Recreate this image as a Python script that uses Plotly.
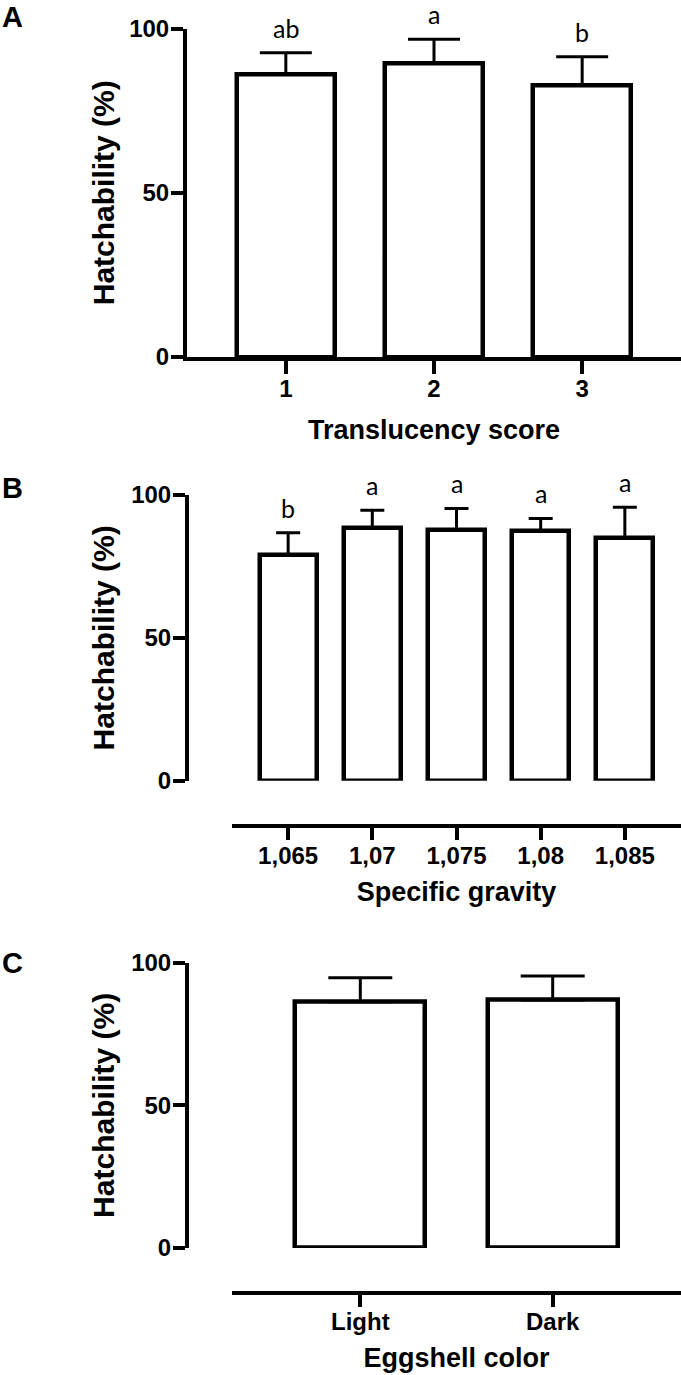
import plotly.graph_objects as go

W, H = 681, 1375

# ---- data ----
cat_a = ["1", "2", "3"]
mean_a = [86.1, 89.4, 82.8]
sem_a = [6.5, 7.3, 8.6]
letters_a = ["ab", "a", "b"]

cat_b = ["1,065", "1,07", "1,075", "1,08", "1,085"]
mean_b = [79.0, 88.3, 87.7, 87.4, 84.8]
sem_b = [7.8, 6.4, 7.6, 4.4, 10.9]
letters_b = ["b", "a", "a", "a", "a"]

cat_c = ["Light", "Dark"]
mean_c = [86.3, 86.9]
sem_c = [8.4, 8.4]

y_ticks = [0, 50, 100]

# ---- helpers ----
def px_x(p):
    return p / W

def px_y(p):
    return 1 - p / H

BOLD = dict(family="Liberation Sans, Arial, sans-serif", color="black", weight="bold")
TICKFONT = dict(BOLD, size=24)
TITLEFONT = dict(BOLD, size=27)
YTITLEFONT = dict(BOLD, size=30)
LETTERFONT = dict(family="Lato, Open Sans, sans-serif", size=25, color="black")

fig = go.Figure()

panels = [
    # cats, means, sems, letters, xaxis id, yaxis id, bar width, cap half-width
    (cat_a, mean_a, sem_a, letters_a, "x", "y", 0.66, 26),
    (cat_b, mean_b, sem_b, letters_b, "x2", "y2", 0.68, 12),
    (cat_c, mean_c, sem_c, None, "x3", "y3", 0.675, 32),
]

for cats, means, sems, letters, xa, ya, bw, cap in panels:
    fig.add_trace(go.Bar(
        x=cats, y=means, xaxis=xa, yaxis=ya, width=bw,
        marker=dict(color="white", line=dict(color="black", width=4.5)),
        error_y=dict(type="data", array=sems, arrayminus=[0] * len(sems),
                     symmetric=False, color="black", thickness=3, width=cap),
        showlegend=False, hoverinfo="x+y",
    ))
    if letters:
        for i, (m, s, l) in enumerate(zip(means, sems, letters)):
            fig.add_annotation(x=i, y=m + s, xref=xa, yref=ya, text=l,
                               showarrow=False, yanchor="bottom", yshift=8,
                               font=LETTERFONT)

axis_common = dict(showgrid=False, zeroline=False, showline=True,
                   linecolor="black", linewidth=4, ticks="outside",
                   tickcolor="black", tickwidth=4, tickfont=TICKFONT,
                   automargin=False, fixedrange=True)

def yax(top, bottom):
    return dict(axis_common, domain=[px_y(bottom), px_y(top)], range=[0, 100],
                tickvals=y_ticks, ticklen=12, ticklabelstandoff=-3,
                title=dict(text="Hatchability (%)", font=YTITLEFONT, standoff=7))

fig.update_layout(
    width=W, height=H, margin=dict(l=0, r=0, t=0, b=0), autosize=False,
    plot_bgcolor="white", paper_bgcolor="white", bargap=0,
    # Panel A
    xaxis=dict(axis_common, type="category", domain=[px_x(187), 1],
               range=[-0.667, 2.667], anchor="y", ticklen=13, ticklabelstandoff=-6,
               title=dict(text="Translucency score", font=TITLEFONT, standoff=20)),
    yaxis=dict(yax(28.5, 357), anchor="x"),
    # Panel B
    xaxis2=dict(axis_common, type="category", domain=[px_x(232), 1],
                range=[-0.667, 4.667], anchor="free", position=px_y(825.7),
                ticklen=12, ticklabelstandoff=-5,
                title=dict(text="Specific gravity", font=TITLEFONT, standoff=14)),
    yaxis2=dict(yax(495, 780.7), anchor="free", position=px_x(187)),
    # Panel C
    xaxis3=dict(axis_common, type="category", domain=[px_x(232), 1],
                range=[-0.667, 1.667], anchor="free", position=px_y(1292.7),
                ticklen=12, ticklabelstandoff=-6,
                title=dict(text="Eggshell color", font=TITLEFONT, standoff=14)),
    yaxis3=dict(yax(962.7, 1248), anchor="free", position=px_x(187)),
)

for letter, ypix in [("A", 17), ("B", 488), ("C", 963)]:
    fig.add_annotation(x=px_x(0), y=px_y(ypix), xref="paper", yref="paper",
                       text=letter, showarrow=False, xanchor="left", yanchor="middle",
                       font=dict(BOLD, size=29))

fig.write_html("out.html", config={"displayModeBar": False},
               post_script="document.body.style.margin='0';")
